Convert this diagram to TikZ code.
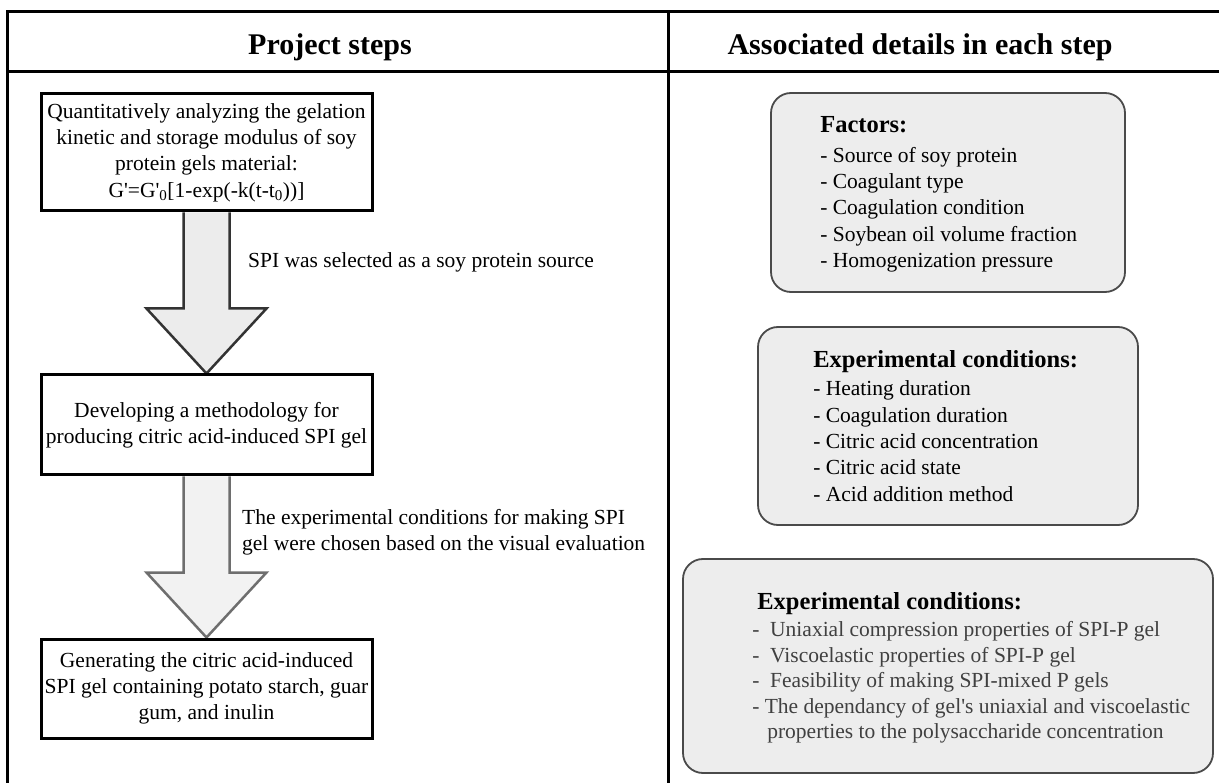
\documentclass[tikz,border=0pt]{standalone}
\usepackage{fontspec}
\setmainfont{Liberation Serif}
\usetikzlibrary{positioning,calc,backgrounds}
\definecolor{boxfill}{HTML}{EDEDED}
\definecolor{boxline}{HTML}{4A4A4A}
\definecolor{arrowAline}{HTML}{333333}
\definecolor{arrowAfill}{HTML}{ECECEC}
\definecolor{arrowBline}{HTML}{6E6E6E}
\definecolor{arrowBfill}{HTML}{F2F2F2}
\definecolor{itemgray}{HTML}{404040}
\newcommand{\headfont}{\fontsize{30}{36}\selectfont\bfseries}
\newcommand{\titlefont}{\fontsize{24.5}{29}\selectfont\bfseries}
\tikzset{
  frame/.style={line width=3pt,line cap=rect},
  stepbox/.style={draw,line width=3pt,fill=white,minimum width=331pt,inner sep=0pt,align=center,font=\fontsize{21.5}{26.3}\selectfont},
  detail/.style={draw=boxline,fill=boxfill,line width=1.8pt,rounded corners=20pt},
  listtext/.style={inner sep=0pt,align=left,font=\fontsize{21.5}{26.3}\selectfont},
  note/.style={inner sep=0pt,align=left,font=\fontsize{21.5}{25.5}\selectfont},
  blockarrow/.style={line width=2.5pt,line join=miter}
}
\begin{document}
\begin{tikzpicture}[x=1pt,y=-1pt]
\useasboundingbox (0,0) rectangle (1219,783);
\draw[frame,line join=miter] (7,783) -- (7,12) -- (1219,12);
\draw[frame] (7,72) -- (1219,72);
\draw[frame] (668,12) -- (668,783);
\node[font=\headfont] (hleft) at (330,47) {Project steps};
\node[font=\headfont] (hright) at (920,47) {Associated details in each step};

\node[stepbox,minimum height=117pt] (quant) at (206.5,152.5) {Quantitatively analyzing the gelation\\kinetic and storage modulus of soy\\protein gels material:\\G\textquotesingle=G\textquotesingle\textsubscript{0}[1-exp(-k(t-t\textsubscript{0}))]};
\node[stepbox,minimum height=100pt] (method) at (206.5,425) {Developing a methodology for\\producing citric acid-induced SPI gel};
\node[stepbox,minimum height=99pt] (generate) at (206.5,688.5) {Generating the citric acid-induced\\SPI gel containing potato starch, guar\\gum, and inulin};

\begin{scope}[on background layer]
\foreach \from/\to/\col in {quant/method/arrowA,method/generate/arrowB}
  \filldraw[blockarrow,draw=\col line,fill=\col fill] ([xshift=-23pt]\from.south) -- ([xshift=-23pt,yshift=65pt]\to.north) -- ([xshift=-60pt,yshift=65pt]\to.north) -- (\to.north) -- ([xshift=60pt,yshift=65pt]\to.north) -- ([xshift=23pt,yshift=65pt]\to.north) -- ([xshift=23pt]\from.south);
\end{scope}

\node[note,anchor=west] (spisel) at (248,262) {SPI was selected as a soy protein source};
\node[note,anchor=west] (expsel) at (242,532.5) {The experimental conditions for making SPI\\gel were chosen based on the visual evaluation};

\node[detail,minimum width=354pt,minimum height=199pt] (factors) at (948,192.5) {};
\node[listtext,anchor=west] (factlist) at ([xshift=50pt,yshift=-2pt]factors.west) {{\titlefont Factors:}\\[3pt]- Source of soy protein\\- Coagulant type\\- Coagulation condition\\- Soybean oil volume fraction\\- Homogenization pressure};

\node[detail,minimum width=380pt,minimum height=198pt] (expcond) at (948,426) {};
\node[listtext,anchor=west] (condlist) at ([xshift=56pt]expcond.west) {{\titlefont Experimental conditions:}\\[2pt]- Heating duration\\- Coagulation duration\\- Citric acid concentration\\- Citric acid state\\- Acid addition method};

\node[detail,minimum width=530pt,minimum height=214pt] (expprops) at (948,666) {};
\node[listtext,anchor=west,font=\fontsize{21.5}{25.5}\selectfont] (proplist) at ([xshift=70pt,yshift=-2pt]expprops.west) {\hspace*{5pt}{\titlefont Experimental conditions:}\\[2pt]\color{itemgray}-\ \ Uniaxial compression properties of SPI-P gel\\\color{itemgray}-\ \ Viscoelastic properties of SPI-P gel\\\color{itemgray}-\ \ Feasibility of making SPI-mixed P gels\\\color{itemgray}- The dependancy of gel\textquotesingle s uniaxial and viscoelastic\\\color{itemgray}\hspace*{15pt}properties to the polysaccharide concentration};
\end{tikzpicture}
\end{document}
